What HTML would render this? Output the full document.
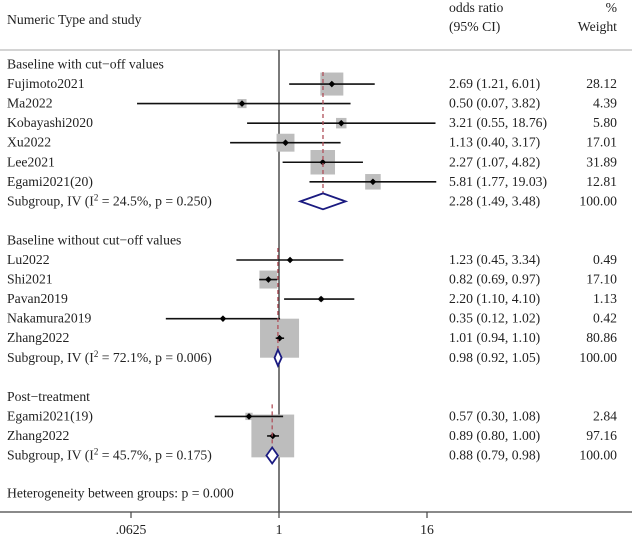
<!DOCTYPE html>
<html><head><meta charset="utf-8">
<style>
html,body{margin:0;padding:0;background:#fff;width:633px;height:536px;overflow:hidden}
svg text{font-family:"Liberation Serif",serif;font-size:13.7px;fill:#222}
</style></head>
<body>
<svg id="chart" width="633" height="536" xmlns="http://www.w3.org/2000/svg">
<text x="7" y="24">Numeric Type and study</text>
<text x="449" y="12">odds ratio</text>
<text x="449" y="31">(95% CI)</text>
<text x="617" y="12" text-anchor="end">%</text>
<text x="617" y="31" text-anchor="end">Weight</text>
<line x1="0" y1="50" x2="632" y2="50" stroke="#bbb" stroke-width="1.2"/>
<g id="marks"></g>
</svg>
<script>
// Data
const studyLabels = ["Fujimoto2021","Ma2022","Kobayashi2020","Xu2022","Lee2021","Egami2021(20)","Lu2022","Shi2021","Pavan2019","Nakamura2019","Zhang2022","Egami2021(19)","Zhang2022"];
const studyGroup = [0,0,0,0,0,0,1,1,1,1,1,2,2];
const studyOR = [2.69,0.50,3.21,1.13,2.27,5.81,1.23,0.82,2.20,0.35,1.01,0.57,0.89];
const studyLo = [1.21,0.07,0.55,0.40,1.07,1.77,0.45,0.69,1.10,0.12,0.94,0.30,0.80];
const studyHi = [6.01,3.82,18.76,3.17,4.82,19.03,3.34,0.97,4.10,1.02,1.10,1.08,1.00];
const studyWeight = [28.12,4.39,5.80,17.01,31.89,12.81,0.49,17.10,1.13,0.42,80.86,2.84,97.16];
const groupLabels = ["Baseline with cut\u2212off values","Baseline without cut\u2212off values","Post\u2212treatment"];
const groupI2 = ["24.5%","72.1%","45.7%"];
const groupP = ["0.250","0.006","0.175"];
const groupOR = [2.28,0.98,0.88];
const groupLo = [1.49,0.92,0.79];
const groupHi = [3.48,1.05,0.98];
const tickValues = [0.0625,1,16];
const tickLabels = [".0625","1","16"];

// Axis functions
const X0 = 279, PX_PER_LOG2 = 37;
function xScale(v){ return X0 + PX_PER_LOG2*Math.log2(v); }
const ROW0 = 64.5, ROWH = 19.55;
function yRow(i){ return ROW0 + ROWH*i; }
function fmt(v){ return v.toFixed(2); }

const NS = "http://www.w3.org/2000/svg";
const g = document.getElementById("marks");
function mk(tag, attrs, parent){
  const e = document.createElementNS(NS, tag);
  for (const k in attrs) e.setAttribute(k, attrs[k]);
  (parent||g).appendChild(e);
  return e;
}

let row = 0;
const refg = document.createElementNS(NS,"g"); g.appendChild(refg);
const boxes = document.createElementNS(NS,"g"); g.appendChild(boxes);
const lines = document.createElementNS(NS,"g"); g.appendChild(lines);
for (let gi=0; gi<groupLabels.length; gi++){
  let t = mk("text",{x:7,y:yRow(row)+4});
  t.textContent = groupLabels[gi];
  
  
  row++;
  const firstRow = row;
  for (let i=0;i<studyLabels.length;i++){
    if (studyGroup[i]!==gi) continue;
    const y = yRow(row);
    const tl = mk("text",{x:7,y:y+4}); tl.textContent = studyLabels[i];
    
    
    const to = mk("text",{x:449,y:y+4}); to.textContent = fmt(studyOR[i])+" ("+fmt(studyLo[i])+", "+fmt(studyHi[i])+")";
    
    
    const tw = mk("text",{x:617,y:y+4,"text-anchor":"end"}); tw.textContent = fmt(studyWeight[i]);
    
    
    const s = 4.34*Math.sqrt(studyWeight[i]);
    const b = mk("rect",{x:xScale(studyOR[i])-s/2,y:y-s/2,width:s,height:s,fill:"#bdbdbd"},boxes);
    
    
    const l = mk("line",{x1:xScale(studyLo[i]),x2:xScale(studyHi[i]),y1:y,y2:y,stroke:"#111","stroke-width":1.6},lines);
    
    
    const p = mk("path",{d:`M${xScale(studyOR[i])-3.3},${y} L${xScale(studyOR[i])},${y-3.3} L${xScale(studyOR[i])+3.3},${y} L${xScale(studyOR[i])},${y+3.3} Z`,fill:"#000"},lines);
    
    
    row++;
  }
  const y = yRow(row);
  const ts = mk("text",{x:7,y:y+4});
  ts.innerHTML = 'Subgroup, IV (I<tspan dy="-5" font-size="9">2</tspan><tspan dy="5"> = '+groupI2[gi]+', p = '+groupP[gi]+')</tspan>';
  
  
  const to = mk("text",{x:449,y:y+4}); to.textContent = fmt(groupOR[gi])+" ("+fmt(groupLo[gi])+", "+fmt(groupHi[gi])+")";
  
  
  const tw = mk("text",{x:617,y:y+4,"text-anchor":"end"}); tw.textContent = "100.00";
  
  
  const gx = xScale(groupOR[gi]);
  const dl = mk("line",{x1:gx,x2:gx,y1:yRow(firstRow)-12,y2:y+8,stroke:"#b0505a","stroke-width":1.3,"stroke-dasharray":"4,3"},lines);
  
  
  const d = mk("path",{d:`M${xScale(groupLo[gi])},${y} L${gx},${y-8} L${xScale(groupHi[gi])},${y} L${gx},${y+8} Z`,fill:"#fff",stroke:"#1a1a80","stroke-width":1.8},lines);
  
  
  row += 2;
}
const th = mk("text",{x:7,y:yRow(row-0.05)+4}); th.textContent = "Heterogeneity between groups: p = 0.000";



const ref = mk("line",{x1:xScale(1),x2:xScale(1),y1:50,y2:512,stroke:"#333","stroke-width":1.3},refg);


const ax = mk("line",{x1:0,x2:632,y1:512,y2:512,stroke:"#444","stroke-width":1.3});


for (let i=0;i<tickValues.length;i++){
  const x = xScale(tickValues[i]);
  const tk = mk("line",{x1:x,x2:x,y1:512,y2:518,stroke:"#444","stroke-width":1.2});
  
  
  const tt = mk("text",{x:x,y:534,"text-anchor":"middle"}); tt.textContent = tickLabels[i];
  
  
}
</script>
</body></html>
